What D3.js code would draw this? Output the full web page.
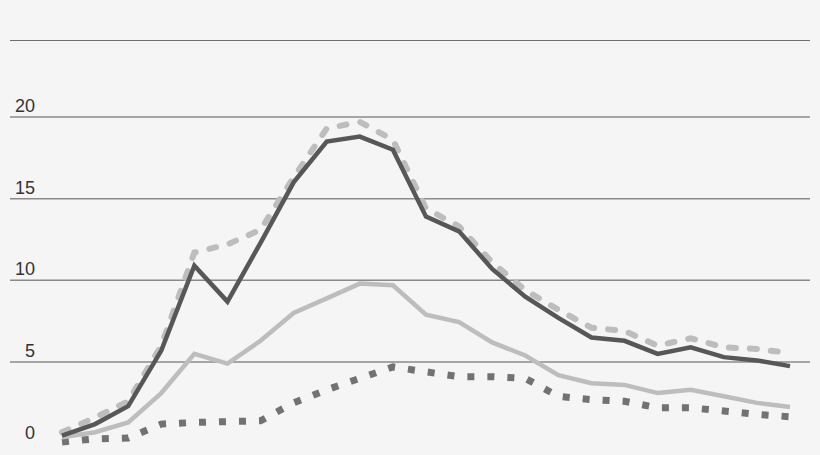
<!DOCTYPE html>
<meta charset="utf-8">
<style>

body {
  margin: 0;
  background: #f5f5f5;
}

.grid line {
  stroke: #8a8a8a;
  stroke-width: 1.5px;
}

.ylabels text {
  font-family: "Liberation Sans", Arial, sans-serif;
  font-size: 18px;
  fill: #333;
}

.series path {
  fill: none;
  stroke-linejoin: miter;
}

</style>
<body>
  <svg></svg>
</body>
<script src="https://cdn.jsdelivr.net/npm/d3@7"></script>
<script>

// 23 periods along the x axis, no labels in the chart
var periods = d3.range(23);

var yTicks = [0, 5, 10, 15, 20];

// dark solid line
var seriesDark = [0.5, 1.2, 2.3, 5.7, 10.9, 8.7, 12.3, 16.0, 18.5, 18.8, 18.0, 13.9, 13.0,
                  10.7, 9.0, 7.7, 6.5, 6.3, 5.5, 5.9, 5.3, 5.1, 4.75];

// light dashed line
var seriesDashed = [0.7, 1.6, 2.6, 6.0, 11.7, 12.2, 13.1, 16.3, 19.3, 19.7, 18.6, 14.4, 13.3,
                    11.1, 9.4, 8.2, 7.1, 6.9, 6.0, 6.45, 5.9, 5.8, 5.55];

// light solid line
var seriesLight = [0.4, 0.7, 1.3, 3.1, 5.5, 4.9, 6.3, 8.0, 8.9, 9.8, 9.7, 7.9, 7.45,
                   6.2, 5.4, 4.2, 3.7, 3.6, 3.1, 3.3, 2.9, 2.5, 2.25];

// dotted line
var seriesDotted = [0.1, 0.3, 0.35, 1.2, 1.3, 1.35, 1.4, 2.5, 3.3, 4.0, 4.7, 4.4, 4.1,
                    4.1, 4.0, 2.9, 2.7, 2.6, 2.2, 2.2, 2.0, 1.8, 1.65];

var width = 820,
    height = 455;

var svg = d3.select("svg")
    .attr("width", width)
    .attr("height", height);

var x = d3.scaleLinear()
    .domain([0, periods.length - 1])
    .range([62, 790]);

var y = d3.scaleLinear()
    .domain([0, 20])
    .range([443.7, 117]);

// top rule
svg.append("line")
    .attr("x1", 10).attr("x2", 810)
    .attr("y1", 40.5).attr("y2", 40.5)
    .attr("stroke", "#6e6e6e")
    .attr("stroke-width", 1.2);

var grid = svg.append("g").attr("class", "grid");

grid.selectAll("line")
  .data(yTicks.filter(function(d) { return d > 0; }))
  .enter().append("line")
    .attr("x1", 10)
    .attr("x2", 810)
    .attr("y1", function(d) { return y(d); })
    .attr("y2", function(d) { return y(d); });

svg.append("g")
    .attr("class", "ylabels")
  .selectAll("text")
  .data(yTicks)
  .enter().append("text")
    .attr("x", 35)
    .attr("y", function(d) { return y(d) - 5; })
    .attr("text-anchor", "end")
    .text(function(d) { return d; });

var line = d3.line()
    .x(function(d, i) { return x(i); })
    .y(function(d) { return y(d); });

var series = svg.append("g").attr("class", "series");

series.append("path")
    .datum(seriesDotted)
    .attr("d", line)
    .attr("stroke", "#727272")
    .attr("stroke-width", 7)
    .attr("stroke-dasharray", "7,13");

series.append("path")
    .datum(seriesLight)
    .attr("d", line)
    .attr("stroke", "#bdbdbd")
    .attr("stroke-width", 4.5);

series.append("path")
    .datum(seriesDashed)
    .attr("d", line)
    .attr("stroke", "#bdbdbd")
    .attr("stroke-width", 6)
    .attr("stroke-linecap", "round")
    .attr("stroke-dasharray", "7,14");

series.append("path")
    .datum(seriesDark)
    .attr("d", line)
    .attr("stroke", "#575757")
    .attr("stroke-width", 4.5);

</script>
